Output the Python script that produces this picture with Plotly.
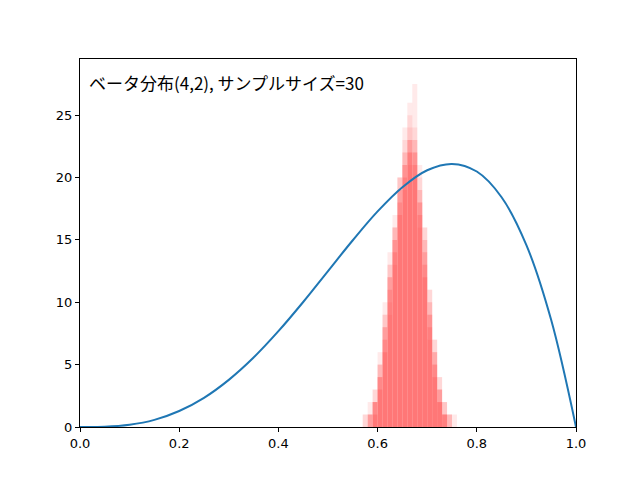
import plotly.graph_objects as go

# Beta(4,2) density curve (x10)
curve_x = [0, 0.05, 0.1, 0.15, 0.2, 0.25, 0.3, 0.35, 0.4, 0.45, 0.5,
           0.55, 0.6, 0.65, 0.7, 0.75, 0.8, 0.85, 0.9, 0.95, 1.0]
curve_y = [0, 0.02, 0.18, 0.57, 1.28, 2.34, 3.78, 5.57, 7.68, 10.02, 12.5,
           14.97, 17.28, 19.22, 20.58, 21.09, 20.48, 18.42, 14.58, 8.57, 0]

# histograms of sample means (bin centres, several repeated trials)
bins = [0.575, 0.585, 0.595, 0.605, 0.615, 0.625, 0.635, 0.645, 0.655, 0.665,
        0.675, 0.685, 0.695, 0.705, 0.715, 0.725, 0.735, 0.745, 0.755]
trials = [
    [0, 1, 2, 4, 7, 11, 14, 18, 21, 23, 24, 19, 14, 9, 5, 2, 1, 0, 0],
    [1, 2, 3, 5, 9, 12, 16, 19, 22, 25, 22, 17, 12, 7, 4, 2, 0, 0, 0],
    [0, 0, 1, 3, 6, 9, 13, 17, 20, 22, 27.5, 21, 16, 11, 6, 3, 1, 1, 0],
    [0, 1, 2, 4, 8, 13, 17, 20, 22, 26, 23, 18, 13, 8, 5, 3, 2, 1, 0],
    [0, 0, 2, 5, 9, 14, 16, 20, 23, 21, 20, 17, 15, 10, 6, 3, 1, 0, 1],
    [0, 1, 3, 6, 10, 13, 15, 18, 19, 22, 21, 19, 15, 11, 7, 4, 2, 1, 0],
    [0, 0, 1, 4, 7, 10, 15, 19, 21, 24, 22, 18, 14, 9, 6, 3, 1, 0, 0],
    [0, 1, 2, 3, 6, 12, 16, 20, 24, 23, 21, 16, 12, 8, 4, 2, 1, 0, 0],
    [0, 0, 2, 4, 8, 11, 14, 17, 21, 23, 22, 20, 16, 10, 7, 4, 2, 1, 0],
    [1, 1, 2, 5, 8, 12, 15, 19, 20, 22, 23, 18, 13, 9, 5, 2, 1, 0, 0],
]

fig = go.Figure()
for t in trials:
    fig.add_trace(go.Bar(x=bins, y=t, width=0.01, marker=dict(color="#ff3b3b", line_width=0),
                         opacity=0.1, showlegend=False))
fig.add_trace(go.Scatter(x=curve_x, y=curve_y, mode="lines", line=dict(color="#1f77b4", width=2, shape="spline"),
                         showlegend=False))

fig.add_annotation(x=0.015, y=0.975, xref="paper", yref="paper", xanchor="left", yanchor="top",
                   text="ベータ分布(4,2), サンプルサイズ=30", showarrow=False,
                   font=dict(family="Noto Sans CJK JP", size=17, color="black"))

axis = dict(showgrid=False, zeroline=False, showline=True, linecolor="black", mirror=True,
            ticks="outside", ticklen=4, tickcolor="black", tickfont=dict(size=13, color="black"))
fig.update_xaxes(range=[0, 1], tickvals=[0, 0.2, 0.4, 0.6, 0.8, 1.0], tickformat=".1f", **axis)
fig.update_yaxes(range=[0, 29.5], tickvals=[0, 5, 10, 15, 20, 25], **axis)
fig.update_layout(width=640, height=478, margin=dict(l=72, r=72, t=51, b=59),
                  barmode="overlay", plot_bgcolor="white", paper_bgcolor="white",
                  font=dict(family="DejaVu Sans"))
fig.write_html("out.html")
